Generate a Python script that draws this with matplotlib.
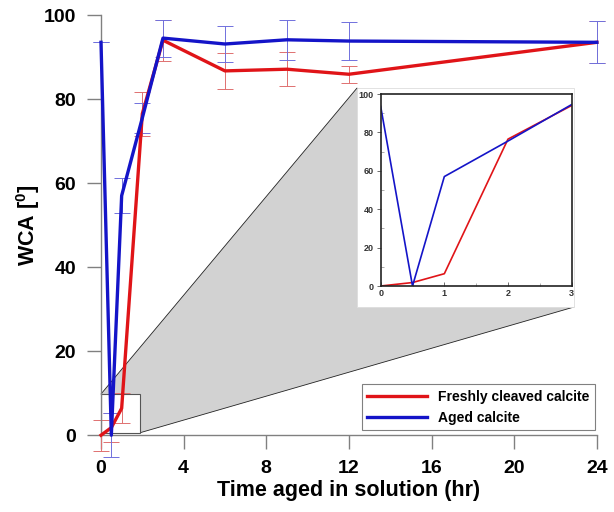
import numpy as np
import matplotlib.pyplot as plt
from matplotlib.patches import Polygon, Rectangle

plt.rcParams['font.family'] = ['Liberation Sans', 'DejaVu Sans']
plt.rcParams['mathtext.fontset'] = 'custom'
plt.rcParams['mathtext.rm'] = 'Liberation Sans'
plt.rcParams['mathtext.bf'] = 'Liberation Sans:bold'

# data
hours = [0, 0.5, 1, 2, 3, 6, 9, 12, 24]
fresh = [0, 1.8, 6.4, 76.5, 94.0, 86.7, 87.1, 85.9, 93.5]
fresh_err = [3.7, 3.4, 3.6, 5.2, 4.9, 4.2, 4.1, 2.0, 5.0]
aged = [93.5, 0, 57.0, 75.5, 94.5, 93.1, 94.1, 93.8, 93.5]
aged_err = [0, 5.2, 4.2, 3.5, 4.4, 4.4, 4.7, 4.6, 5.0]

red = '#e01418'
blue = '#1414c8'

fig = plt.figure(figsize=(6.14, 5.12), dpi=100)
ax = fig.add_axes([0.1645, 0.150, 0.8075, 0.8207])

ax.errorbar(hours, fresh, yerr=fresh_err, fmt='none', ecolor='#e07070',
            elinewidth=0.7, capsize=5.5, capthick=0.7, clip_on=False, zorder=2)
ax.errorbar(hours, aged, yerr=aged_err, fmt='none', ecolor='#7070dd',
            elinewidth=0.7, capsize=5.5, capthick=0.7, clip_on=False, zorder=2)
ax.plot(hours, fresh, color=red, lw=2.4, label='Freshly cleaved calcite',
        clip_on=False, zorder=3)
ax.plot(hours, aged, color=blue, lw=2.4, label='Aged calcite',
        clip_on=False, zorder=3)

ax.set_xlim(0, 24)
ax.set_ylim(0, 100)
ax.set_xticks(range(0, 25, 4))
ax.set_yticks(range(0, 101, 20))
for s in ['top', 'right']:
    ax.spines[s].set_visible(False)
for s in ['left', 'bottom']:
    ax.spines[s].set_color('#808080')
    ax.spines[s].set_linewidth(1.0)
ax.tick_params(length=10, width=1.0, color='#808080', labelsize=14, pad=8)
for lab in ax.get_xticklabels() + ax.get_yticklabels():
    lab.set_fontweight('bold')
ax.set_xlabel('Time aged in solution (hr)', fontsize=15.5, fontweight='bold', labelpad=2)
ax.set_ylabel(r'WCA [$^{\mathbf{0}}$]', fontsize=15.5, fontweight='bold', labelpad=1)

leg = ax.legend(loc='lower right', bbox_to_anchor=(0.996, 0.012), borderaxespad=0,
                fancybox=False, prop={'weight': 'bold', 'size': 10},
                handlelength=4.3, edgecolor='#808080', framealpha=1)
leg.get_frame().set_linewidth(0.8)
leg.set_zorder(10)

# zoom box, connector wedge and inset
box = (0, 0.6, 1.9, 9.8)
inset_bg = (0.5814, 0.4004, 0.9349, 0.828)
to_fig = fig.transFigure.inverted()
(bx0, by0), (bx1, by1) = to_fig.transform(ax.transData.transform([(box[0], box[1]), (box[2], box[3])]))
wedge = Polygon([(bx0, by1), (inset_bg[0], inset_bg[3]), (inset_bg[2], inset_bg[1]), (bx1, by0)],
                closed=True, facecolor='#d2d2d2', edgecolor='#222222', lw=0.6,
                transform=fig.transFigure, clip_on=False, zorder=1)
ax.add_patch(wedge)
ax.add_patch(Rectangle((box[0], box[1]), box[2] - box[0], box[3] - box[1],
                       facecolor='white', edgecolor='#555555', lw=0.8, zorder=1.2))
ax.add_patch(Rectangle((inset_bg[0], inset_bg[1]), inset_bg[2] - inset_bg[0],
                       inset_bg[3] - inset_bg[1], facecolor='white', edgecolor='#dddddd',
                       lw=0.6, transform=fig.transFigure, clip_on=False, zorder=1.3))

axin = fig.add_axes([0.620, 0.4414, 0.311, 0.3750])
axin.set_zorder(5)
axin.plot(hours, fresh, color=red, lw=1.2)
axin.plot(hours, aged, color=blue, lw=1.2)
axin.set_xlim(0, 3)
axin.set_ylim(0, 100)
axin.set_xticks([0, 1, 2, 3])
axin.set_yticks(range(0, 101, 20))
axin.set_xticks([0.5, 1.5, 2.5], minor=True)
axin.set_yticks(range(10, 100, 20), minor=True)
for s in axin.spines.values():
    s.set_color('#222222')
    s.set_linewidth(1.2)
axin.tick_params(which='major', length=3, width=0.6, color='#555555', labelsize=6.5,
                 labelcolor='#333333', pad=2)
axin.tick_params(which='minor', direction='in', length=2, width=0.5, color='#888888')
axin.tick_params(axis='x', which='major', direction='in')
for lab in axin.get_xticklabels() + axin.get_yticklabels():
    lab.set_fontweight('bold')

fig.savefig('out.png', dpi=100)
